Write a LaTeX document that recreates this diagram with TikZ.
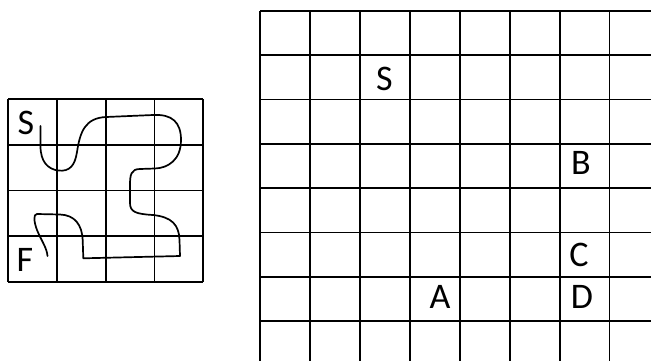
\documentclass[tikz,border=0pt]{standalone}
\usepackage{fontspec}
\setmainfont{Carlito}
\begin{document}
\begin{tikzpicture}[x=1pt,y=-1pt,
  gridline/.style={line width=1.7pt,black},
  pathline/.style={line width=1.7pt,black,line join=round,line cap=round},
  letter/.style={anchor=base,inner sep=0pt,font=\fontsize{36}{36}\selectfont}]
\useasboundingbox (0,0) rectangle (651,360);
\clip (0,0) rectangle (651,360);
% left 4x4 grid
\foreach \i in {0,...,4}{
  \draw[gridline] ({8.3+48.75*\i},99.3) -- ({8.3+48.75*\i},281.7);
  \draw[gridline] (8.3,{99.3+45.6*\i}) -- (203.3,{99.3+45.6*\i});
}
% right grid
\foreach \i in {0,...,7}{
  \draw[gridline] ({260.3+49.9*\i},11) -- ({260.3+49.9*\i},362);
  \draw[gridline] (260.3,{11+44.3*\i}) -- (653,{11+44.3*\i});
}
% winding path
\draw[pathline] (40.5,126) -- (40.5,146)
  .. controls (40.5,162) and (48,169) .. (58,170.5)
  .. controls (70,172) and (75,165) .. (77,152)
  .. controls (80,132) and (85,118) .. (106,117)
  -- (153,115)
  .. controls (172,114) and (181,122) .. (181,140)
  .. controls (181,160) and (168,168) .. (155,168.5)
  -- (140,169)
  .. controls (131,169) and (130,175) .. (130,185)
  -- (130,203)
  .. controls (130,212) and (136,214) .. (153,215)
  .. controls (172,217) and (179,225) .. (179.5,240)
  -- (180,256)
  -- (83.3,258.3)
  -- (82.7,240)
  .. controls (82,225) and (75,215) .. (60,214.5)
  -- (37,214)
  .. controls (33,214) and (34,222) .. (37,230)
  .. controls (41,240) and (47,248) .. (47.5,256);
% labels left
\node[letter] (ls) at (26,134) {S};
\node[letter] (lf) at (25,271) {F};
% labels right
\node[letter] (rs) at (384.5,90) {S};
\node[letter] (rb) at (581,174) {B};
\node[letter] (rc) at (579,266) {C};
\node[letter] (rd) at (582,308) {D};
\node[letter] (ra) at (440,308) {A};
\end{tikzpicture}
\end{document}
